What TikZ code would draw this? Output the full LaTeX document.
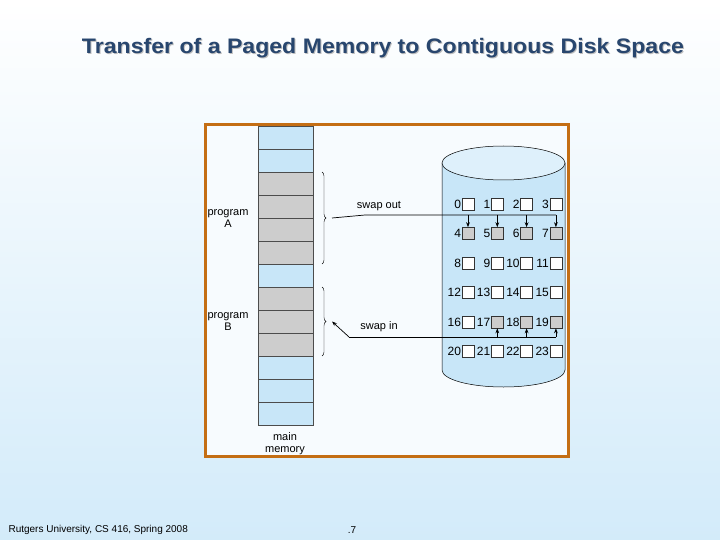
\documentclass[tikz,border=0pt]{standalone}
\usepackage{fontspec}
\setmainfont{Liberation Sans}
\usetikzlibrary{decorations.pathreplacing,arrows.meta,calc}
\definecolor{memblue}{RGB}{200,230,248}
\definecolor{memgray}{RGB}{205,205,205}
\definecolor{framec}{RGB}{196,110,20}
\definecolor{titlec}{RGB}{40,70,110}
\begin{document}
\begin{tikzpicture}[x=1pt,y=-1pt,
    cell/.style={draw=black!70,line width=0.6pt},
    blk/.style={draw=black!80,line width=0.6pt,minimum size=12pt,inner sep=0pt},
    lbl/.style={font=\fontsize{11}{12}\selectfont,inner sep=1pt},
    arr/.style={-{Stealth[length=5pt]},line width=0.7pt},
    ttl/.style={font=\bfseries\fontsize{21}{24}\selectfont,xscale=1.1,transform shape}]

    % background
    \shade[top color=white,bottom color=memblue!80] (0,0) rectangle (720,540);
    \useasboundingbox (0,0) rectangle (720,540);
    \node[ttl,text=black!25] at (384,49.5) {Transfer of a Paged Memory to Contiguous Disk Space};
    \node[ttl,text=titlec] (title) at (383,48) {Transfer of a Paged Memory to Contiguous Disk Space};

    % frame
    \fill[white!85!memblue] (205,125) rectangle (568,456);
    \begin{scope}
    \clip (205,125) rectangle (568,456);
    % main memory
    \foreach \i in {0,...,12} {
        \pgfmathsetmacro{\yy}{126+23*\i}
        \ifnum\i<2 \def\cc{memblue}\else\ifnum\i<6 \def\cc{memgray}\else\ifnum\i<7 \def\cc{memblue}\else\ifnum\i<10 \def\cc{memgray}\else\def\cc{memblue}\fi\fi\fi\fi
        \draw[cell,fill=\cc] (258,\yy) rectangle (313,\yy+23);
    }
    \node[lbl,align=center] (progA) at (228,219) {program\\A};
    \node[lbl,align=center] (progB) at (228,322) {program\\B};
    \node[lbl,align=center] (mem) at (285,444) {main\\memory};

    % braces
    \draw[decorate,decoration={brace,amplitude=4pt},line width=0.4pt] (322,172) -- (322,264) coordinate[midway,xshift=6pt] (braceA);
    \draw[decorate,decoration={brace,amplitude=4pt},line width=0.4pt] (322,287) -- (322,356) coordinate[midway,xshift=6pt] (braceB);

    % disk
    \draw[fill=memblue,line width=0.5pt] (442,163) -- (442,370) arc[start angle=180,end angle=0,x radius=61.5,y radius=17] -- (565,163);
    \draw[fill=memblue!60!white,line width=0.5pt] (503.5,163) ellipse[x radius=61.5,y radius=17];
    \foreach \r in {0,...,5} {
        \foreach \c in {0,...,3} {
            \pgfmathtruncatemacro{\n}{4*\r+\c}
            \pgfmathsetmacro{\bx}{468+29.3*\c}
            \pgfmathsetmacro{\by}{204+29.5*\r}
            \def\bfill{white}
            \ifnum\n>3 \ifnum\n<8 \def\bfill{memgray}\fi\fi
            \ifnum\n>16 \ifnum\n<20 \def\bfill{memgray}\fi\fi
            \node[blk,fill=\bfill] (b\n) at (\bx,\by) {};
            \node[lbl,anchor=east,font=\fontsize{12}{13}\selectfont,inner sep=0.5pt] at (b\n.west) {\n};
        }
    }
    \end{scope}
    \draw[framec,line width=3pt] (205,125) rectangle (568,456);

    % swap out
    \coordinate (outR) at (b7 |- 0,215);
    \draw[line width=0.7pt] ($(braceA)+(4,0)$) -- (365,215) -- (outR);
    \node[lbl] at (379,206) {swap out};
    \foreach \n in {4,5,6,7} \draw[arr] (b\n |- 0,215) -- (b\n.north);
    % swap in
    \coordinate (inL) at (349,337);
    \draw[line width=0.7pt] (inL) -- (b19 |- 0,337);
    \foreach \n in {17,18,19} \draw[arr] (b\n |- 0,337) -- (b\n.south);
    \draw[arr] (inL) -- ($(braceB)+(4,0)$);
    \node[lbl] at (379,327) {swap in};

    % footer
    \node[anchor=west,font=\fontsize{10}{11}\selectfont] (foot) at (5,530) {Rutgers University, CS 416, Spring 2008};
    \node[font=\fontsize{10}{11}\selectfont] (page) at (352,530) {.7};
\end{tikzpicture}
\end{document}
